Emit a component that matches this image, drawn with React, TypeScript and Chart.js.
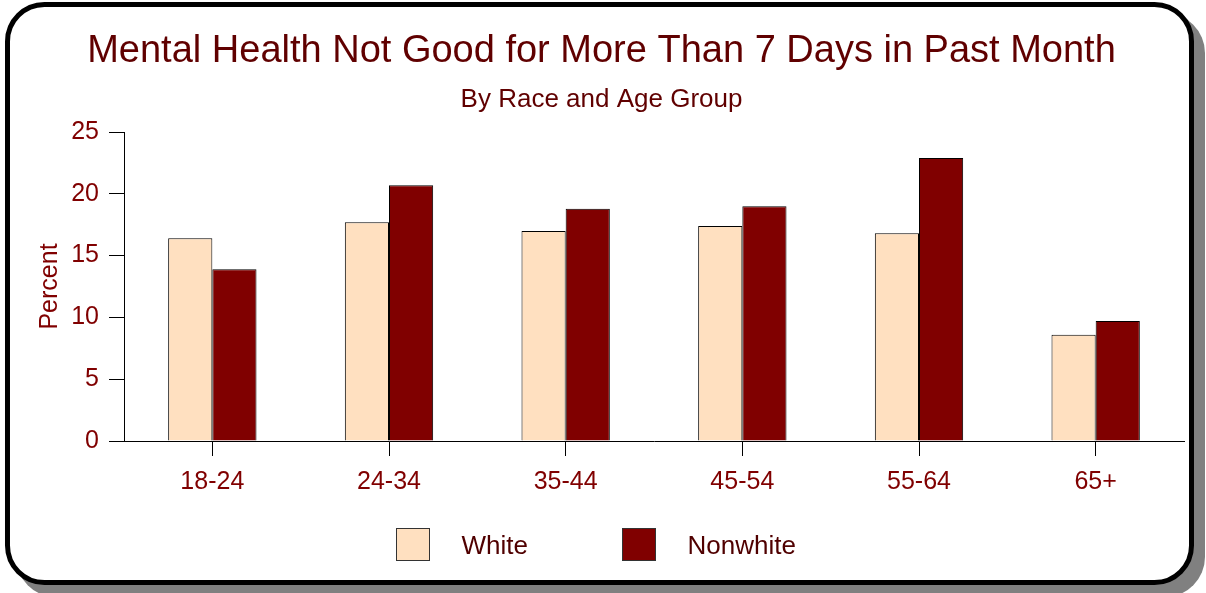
import React, { useEffect, useRef } from 'react';
import { Chart, registerables } from 'chart.js';

Chart.register(...registerables);

// Share of adults reporting more than 7 poor mental-health days, by age group
const ageGroups = ['18-24', '24-34', '35-44', '45-54', '55-64', '65+'];
const whitePercent = [16.4, 17.7, 17.0, 17.4, 16.8, 8.6];
const nonwhitePercent = [13.9, 20.7, 18.8, 19.0, 22.9, 9.7];
const seriesNames = ['White', 'Nonwhite'];
const seriesColors = ['#FFE0C0', '#800000'];
const percentTicks = [0, 5, 10, 15, 20, 25];

const chartTitle = 'Mental Health Not Good for More Than 7 Days in Past Month';
const chartSubtitle = 'By Race and Age Group';

const FONT = "'Liberation Sans', Arial, Helvetica, sans-serif";
const W = 1206;
const H = 593;
const LABEL_RED = '#800000';
const TITLE_RED = '#600000';

// Rounded panel with drop shadow, headings, and a boxed legend row
const panelPlugin = {
  id: 'panelDecor',
  beforeDraw(chart: any) {
    const ctx: CanvasRenderingContext2D = chart.ctx;
    ctx.save();
    ctx.fillStyle = '#808080';
    ctx.beginPath();
    ctx.roundRect(16, 13, 1189, 584, 40);
    ctx.fill();

    ctx.beginPath();
    ctx.roundRect(7.5, 4.5, 1184, 578, 37);
    ctx.fillStyle = '#ffffff';
    ctx.fill();
    ctx.lineWidth = 5;
    ctx.strokeStyle = '#000000';
    ctx.stroke();

    ctx.fillStyle = TITLE_RED;
    ctx.textAlign = 'center';
    ctx.textBaseline = 'alphabetic';
    ctx.font = `38px ${FONT}`;
    ctx.fillText(chartTitle, 601.5, 62);
    ctx.font = `26px ${FONT}`;
    ctx.fillText(chartSubtitle, 601.5, 107);
    ctx.restore();
  },
  afterDraw(chart: any) {
    const ctx: CanvasRenderingContext2D = chart.ctx;
    ctx.save();
    ctx.font = `26px ${FONT}`;
    ctx.textAlign = 'left';
    ctx.textBaseline = 'alphabetic';
    chart.data.datasets.forEach((ds: any, i: number) => {
      const bx = 396.5 + i * 226;
      const by = 528.5;
      ctx.fillStyle = ds.backgroundColor;
      ctx.fillRect(bx, by, 33, 32);
      ctx.lineWidth = 1;
      ctx.strokeStyle = '#333333';
      ctx.strokeRect(bx, by, 33, 32);
      ctx.fillStyle = '#500000';
      ctx.fillText(ds.label, bx + 65, 554);
    });
    ctx.restore();
  },
};

export default function App() {
  const canvasRef = useRef<HTMLCanvasElement>(null);

  useEffect(() => {
    const canvas = canvasRef.current;
    if (!canvas) return;
    const chart = new Chart(canvas, {
      type: 'bar',
      data: {
        labels: ageGroups,
        datasets: [
          {
            label: seriesNames[0],
            data: whitePercent,
            backgroundColor: seriesColors[0],
            borderColor: '#000000',
            borderWidth: 1,
            categoryPercentage: 0.5,
            barPercentage: 1.0,
          },
          {
            label: seriesNames[1],
            data: nonwhitePercent,
            backgroundColor: seriesColors[1],
            borderColor: '#000000',
            borderWidth: 1,
            categoryPercentage: 0.5,
            barPercentage: 1.0,
          },
        ],
      },
      options: {
        responsive: false,
        animation: false,
        devicePixelRatio: 1,
        layout: { padding: { left: 0, top: 132, right: 22, bottom: 92 } },
        plugins: {
          legend: { display: false },
          tooltip: { enabled: false },
          title: { display: false },
        },
        scales: {
          x: {
            grid: {
              offset: false,
              drawOnChartArea: false,
              drawTicks: true,
              tickLength: 15,
              color: '#000000',
            },
            border: { color: '#000000', width: 1 },
            ticks: {
              color: LABEL_RED,
              font: { family: FONT, size: 25 },
              padding: 11,
              maxRotation: 0,
            },
            afterFit(scale: any) {
              scale.height = 60;
            },
          },
          y: {
            min: 0,
            max: 25,
            afterBuildTicks(scale: any) {
              scale.ticks = percentTicks.map((v) => ({ value: v }));
            },
            grid: {
              drawOnChartArea: false,
              drawTicks: true,
              tickLength: 15,
              color: '#000000',
            },
            border: { color: '#000000', width: 1 },
            ticks: {
              color: LABEL_RED,
              font: { family: FONT, size: 25 },
              padding: 10,
            },
            title: {
              display: true,
              text: 'Percent',
              color: LABEL_RED,
              font: { family: FONT, size: 25 },
              padding: { top: 35, bottom: 0 },
            },
            afterFit(scale: any) {
              scale.width = 124;
            },
          },
        },
      },
      plugins: [panelPlugin],
    });
    return () => chart.destroy();
  }, []);

  return (
    <div style={{ position: 'absolute', left: 0, top: 0, width: W, height: H }}>
      <canvas ref={canvasRef} width={W} height={H} style={{ display: 'block' }} />
    </div>
  );
}
